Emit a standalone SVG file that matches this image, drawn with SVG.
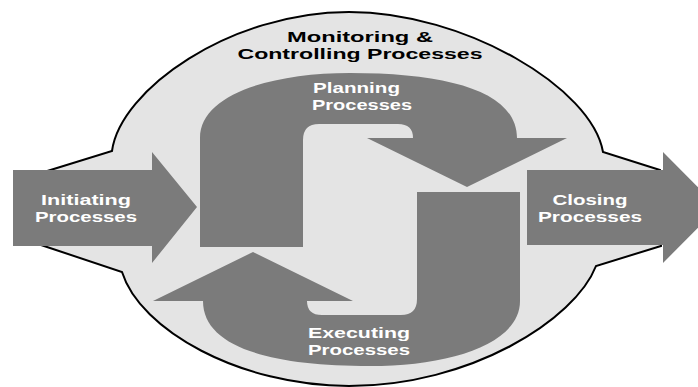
<svg xmlns="http://www.w3.org/2000/svg" xmlns:xlink="http://www.w3.org/1999/xlink" width="698" height="387" viewBox="0 0 698 387">
<style>
.arrow{fill:#7b7b7b;stroke:none}
.bg{fill:#e4e4e4;stroke:#000;stroke-width:2;stroke-linejoin:miter}
.lbl{font-family:"Liberation Sans",Arial,sans-serif;font-weight:bold;font-size:15.5px;fill:#fff}
.title{font-family:"Liberation Sans",Arial,sans-serif;font-weight:bold;font-size:15.5px;fill:#000}
</style>
<defs>
<path id="curvedArrow" d="M200,247 L200,138 C200,95 270,73 350,73 C450,73 517,92 517,138 L567,138 L467,187 L367,138 L413,138 Q413,124 398,124 L319,124 Q303,124 303,140 L303,247 Z"/>
</defs>
<rect width="698" height="387" fill="#fff"/>
<g id="monitoring-controlling">
<path class="bg" d="M44,172 L112,151 C120,90 230,12 349,12 C465,12 592,88 603,152 L660,170 L661,246 L596,266 C575,320 470,386 349,386 C240,386 140,330 122,272 L38,244 Z"/>
<text class="title" x="360" y="42" text-anchor="middle" textLength="146" lengthAdjust="spacingAndGlyphs">Monitoring &amp;</text>
<text class="title" x="360" y="59" text-anchor="middle" textLength="245" lengthAdjust="spacingAndGlyphs">Controlling Processes</text>
</g>
<g id="initiating">
<path class="arrow" d="M13,170 L152,170 L152,152 L197,207 L152,263 L152,246 L13,246 Z"/>
<text class="lbl" x="86" y="205" text-anchor="middle" textLength="90" lengthAdjust="spacingAndGlyphs">Initiating</text>
<text class="lbl" x="86" y="222" text-anchor="middle" textLength="102" lengthAdjust="spacingAndGlyphs">Processes</text>
</g>
<g id="planning">
<use xlink:href="#curvedArrow" class="arrow"/>
<text class="lbl" x="313" y="93" textLength="87" lengthAdjust="spacingAndGlyphs">Planning</text>
<text class="lbl" x="312" y="110" textLength="100" lengthAdjust="spacingAndGlyphs">Processes</text>
</g>
<g id="executing">
<use xlink:href="#curvedArrow" class="arrow" transform="rotate(180 360 219.5)"/>
<text class="lbl" x="308" y="338" textLength="102" lengthAdjust="spacingAndGlyphs">Executing</text>
<text class="lbl" x="308" y="355" textLength="102" lengthAdjust="spacingAndGlyphs">Processes</text>
</g>
<g id="closing">
<path class="arrow" d="M527,170 L663,170 L663,152 L718,207.5 L663,263 L663,245 L527,245 Z"/>
<text class="lbl" x="590" y="205" text-anchor="middle" textLength="75" lengthAdjust="spacingAndGlyphs">Closing</text>
<text class="lbl" x="590" y="222" text-anchor="middle" textLength="104" lengthAdjust="spacingAndGlyphs">Processes</text>
</g>
<g id="connectors"></g>
</svg>
